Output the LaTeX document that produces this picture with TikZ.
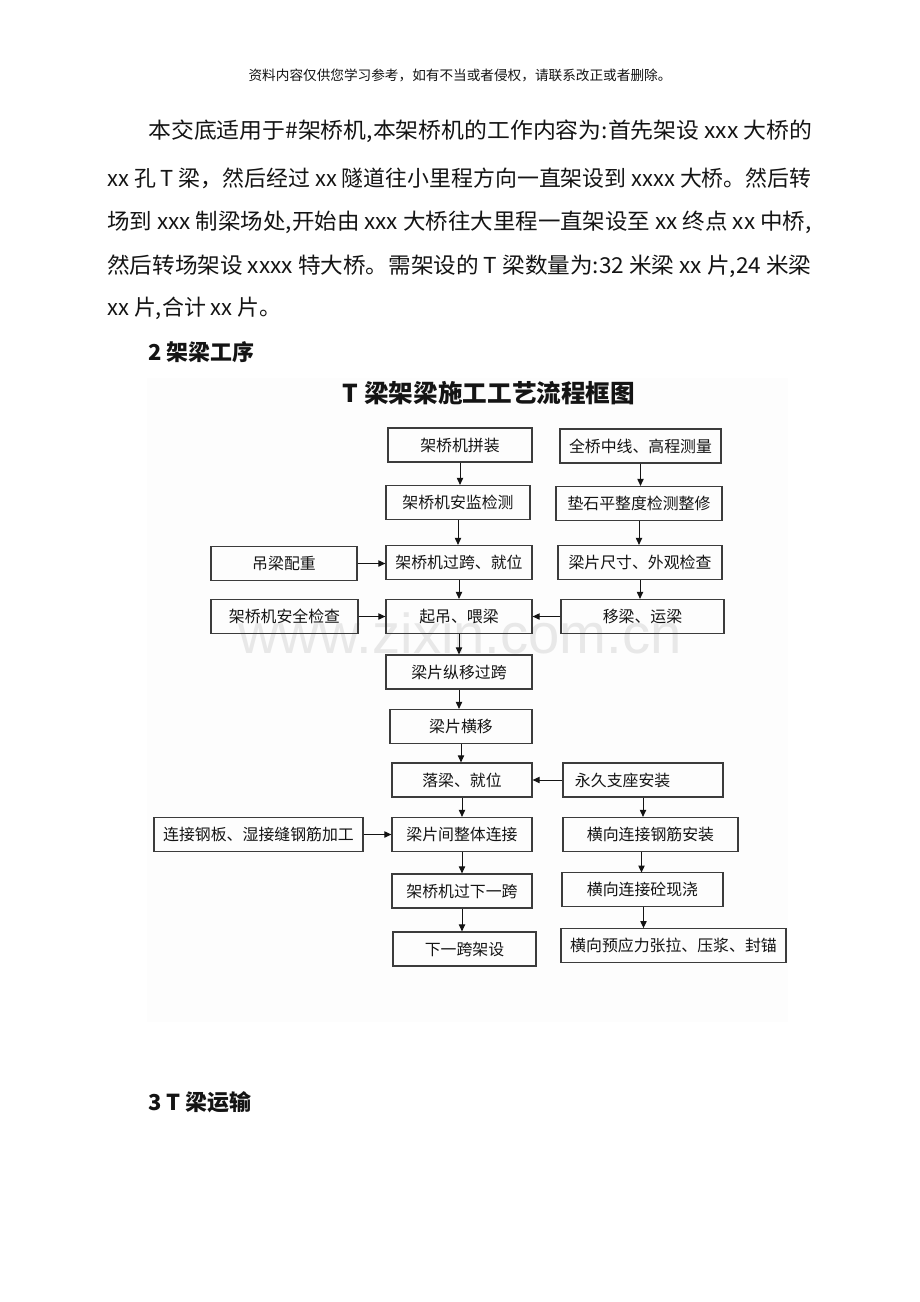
\documentclass[tikz,border=0pt]{standalone}
\usepackage{fontspec}
\setmainfont{Noto Sans CJK SC}
\newfontfamily\markfont{Liberation Sans}
\usepackage{tikz}
\usetikzlibrary{arrows.meta, positioning}
\definecolor{mydark}{RGB}{20,20,20}
\definecolor{myframe}{RGB}{60,60,60}
\definecolor{mybg}{RGB}{253,253,253}
\definecolor{mymark}{RGB}{232,232,232}
\tikzset{
  block/.style={rectangle, draw=myframe, line width=0.85pt,
    minimum height=0.85cm, inner sep=2pt, text=mydark,
    font=\fontsize{11.3pt}{13pt}\selectfont},
  arrow/.style={-{Triangle[length=5pt,width=4.5pt]}, line width=0.7pt, color=mydark},
  bodytext/.style={anchor=west, inner sep=0pt, text=mydark,
    font=\fontsize{15.6pt}{18pt}\selectfont},
  headtext/.style={anchor=west, inner sep=0pt, text=mydark,
    font=\fontsize{15.6pt}{18pt}\selectfont\bfseries}
}

\begin{document}
\begin{tikzpicture}[x=0.025cm, y=-0.025cm]
  \fill[white] (0,0) rectangle (920,1302);
  \useasboundingbox (0,0) rectangle (920,1302);

  % page text
  \node[font=\fontsize{9.7pt}{11pt}\selectfont, text=mydark] (note) at (460,75)
    {资料内容仅供您学习参考，如有不当或者侵权，请联系改正或者删除。};
  \node[bodytext] (line1) at (148,131) {\resizebox{16.6cm}{\height}{本交底适用于\#架桥机,本架桥机的工作内容为:首先架设 xxx 大桥的}};
  \node[bodytext] (line2) at (107,178) {\resizebox{17.6cm}{\height}{xx 孔 T 梁，然后经过 xx 隧道往小里程方向一直架设到 xxxx 大桥。然后转}};
  \node[bodytext] (line3) at (107,222) {\resizebox{17.6cm}{\height}{场到 xxx 制梁场处,开始由 xxx 大桥往大里程一直架设至 xx 终点 xx 中桥,}};
  \node[bodytext] (line4) at (107,266) {\resizebox{17.6cm}{\height}{然后转场架设 xxxx 特大桥。需架设的 T 梁数量为:32 米梁 xx 片,24 米梁}};
  \node[bodytext] (line5) at (107,308) {xx 片,合计 xx 片。};
  \node[headtext] (sec2) at (148,352) {2 架梁工序};
  \node[headtext] (sec3) at (148,1102) {3 T 梁运输};

  % flow chart
  \fill[mybg] (147,378) rectangle (788,1022);
  \node[font=\markfont\fontsize{40pt}{40pt}\selectfont, text=mymark, anchor=base] (mark) at (460,653) {www.zixin.com.cn};
  \node[font=\fontsize{17.5pt}{20pt}\selectfont\bfseries, text=mydark] (title) at (489,393) {T 梁架梁施工工艺流程框图};

  \node[block, minimum width=3.6cm] (assemble) at (460,445) {架桥机拼装};
  \node[block, minimum width=3.6cm] (monitor) at (458,502.5) {架桥机安监检测};
  \node[block, minimum width=3.65cm] (crosspan) at (459,562.5) {架桥机过跨、就位};
  \node[block, minimum width=3.65cm] (hoist) at (459,616.5) {起吊、喂梁};
  \node[block, minimum width=3.65cm] (lengthwise) at (459,672) {梁片纵移过跨};
  \node[block, minimum width=3.55cm] (sideways) at (461,726.5) {梁片横移};
  \node[block, minimum width=3.5cm] (lower) at (462,780) {落梁、就位};
  \node[block, minimum width=3.5cm] (joint) at (462,834.5) {梁片间整体连接};
  \node[block, minimum width=3.5cm] (nextpass) at (462,891) {架桥机过下一跨};
  \node[block, minimum width=3.575cm] (nextspan) at (464.5,949) {下一跨架设};

  \node[block, minimum width=4.025cm] (survey) at (640.5,446) {全桥中线、高程测量};
  \node[block, minimum width=4.15cm] (padcheck) at (639,503.5) {垫石平整度检测整修};
  \node[block, minimum width=4.1cm] (beamcheck) at (640,562.5) {梁片尺寸、外观检查};
  \node[block, minimum width=4.075cm] (transport) at (642.5,616.5) {移梁、运梁};
  \node[block, text width=3.4cm, inner xsep=0.3cm, align=left] (bearing) at (643,780) {永久支座安装};
  \node[block, minimum width=4.375cm] (rebar) at (650.5,834.5) {横向连接钢筋安装};
  \node[block, minimum width=4.025cm] (pour) at (642.5,889.5) {横向连接砼现浇};
  \node[block, minimum width=5.625cm] (tension) at (673.5,945.5) {横向预应力张拉、压浆、封锚};

  \node[block, minimum width=3.65cm] (weight) at (284,563.5) {吊梁配重};
  \node[block, minimum width=3.675cm] (safety) at (284.5,616.5) {架桥机安全检查};
  \node[block, minimum width=5.225cm] (plates) at (258.5,834.5) {连接钢板、湿接缝钢筋加工};

  \draw[arrow] (assemble.south) -- (assemble.south |- monitor.north);
  \draw[arrow] (monitor.south) -- (monitor.south |- crosspan.north);
  \draw[arrow] (crosspan.south) -- (crosspan.south |- hoist.north);
  \draw[arrow] (hoist.south) -- (hoist.south |- lengthwise.north);
  \draw[arrow] (lengthwise.south) -- (lengthwise.south |- sideways.north);
  \draw[arrow] (sideways.south) -- (sideways.south |- lower.north);
  \draw[arrow] (lower.south) -- (lower.south |- joint.north);
  \draw[arrow] (joint.south) -- (joint.south |- nextpass.north);
  \draw[arrow] (nextpass.south) -- (nextpass.south |- nextspan.north);

  \draw[arrow] (survey.south) -- (survey.south |- padcheck.north);
  \draw[arrow] (padcheck.south) -- (padcheck.south |- beamcheck.north);
  \draw[arrow] (beamcheck.south) -- (beamcheck.south |- transport.north);
  \draw[arrow] (bearing.south) -- (bearing.south |- rebar.north);
  \draw[arrow] (rebar.south) ++(-9,0) -- ++(0,20.5);
  \draw[arrow] (pour.south) ++(1,0) -- ++(0,21);

  \draw[arrow] (weight.east) -- (weight.east -| crosspan.west);
  \draw[arrow] (safety.east) -- (safety.east -| hoist.west);
  \draw[arrow] (transport.west) -- (transport.west -| hoist.east);
  \draw[arrow] (bearing.west) -- (bearing.west -| lower.east);
  \draw[arrow] (plates.east) -- (plates.east -| joint.west);
\end{tikzpicture}
\end{document}
